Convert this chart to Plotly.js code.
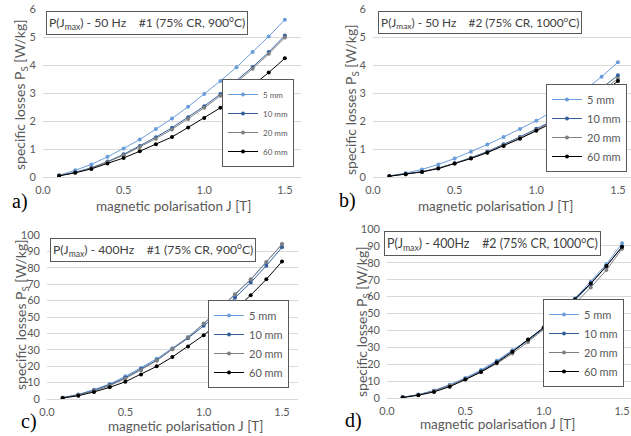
<!DOCTYPE html>
<html>
<head>
<meta charset="utf-8">
<script src="https://cdn.plot.ly/plotly-3.0.1.min.js"></script>
<style>html,body{margin:0;padding:0;background:#fff;}#chart{width:631px;height:436px;}</style>
</head>
<body>
<div id="chart"></div>
<script>
// Magnetic polarisation J [T]
var J = [0.1, 0.2, 0.3, 0.4, 0.5, 0.6, 0.7, 0.8, 0.9, 1.0, 1.1, 1.2, 1.3, 1.4, 1.5];
var seriesNames = ['5 mm', '10 mm', '20 mm', '60 mm'];

// a) 50 Hz, #1 (75% CR, 900 C)
var a5  = [0.06, 0.24, 0.45, 0.72, 1.02, 1.34, 1.71, 2.09, 2.51, 2.96, 3.43, 3.92, 4.46, 5.02, 5.62];
var a10 = [0.05, 0.17, 0.33, 0.55, 0.81, 1.11, 1.42, 1.76, 2.13, 2.53, 2.96, 3.43, 3.93, 4.46, 5.05];
var a20 = [0.05, 0.16, 0.31, 0.53, 0.78, 1.07, 1.37, 1.70, 2.07, 2.47, 2.90, 3.37, 3.87, 4.40, 4.98];
var a60 = [0.04, 0.15, 0.29, 0.48, 0.68, 0.92, 1.17, 1.43, 1.77, 2.11, 2.47, 2.87, 3.27, 3.73, 4.24];

// b) 50 Hz, #2 (75% CR, 1000 C)
var b5  = [0.04, 0.14, 0.27, 0.45, 0.66, 0.90, 1.16, 1.43, 1.71, 2.01, 2.34, 2.71, 3.13, 3.58, 4.10];
var b10 = [0.03, 0.10, 0.19, 0.32, 0.49, 0.69, 0.91, 1.17, 1.43, 1.72, 2.01, 2.35, 2.78, 3.17, 3.63];
var b20 = [0.03, 0.10, 0.19, 0.31, 0.48, 0.67, 0.88, 1.13, 1.39, 1.67, 1.97, 2.30, 2.65, 3.05, 3.52];
var b60 = [0.03, 0.10, 0.18, 0.30, 0.48, 0.66, 0.87, 1.11, 1.37, 1.65, 1.94, 2.23, 2.59, 2.96, 3.43];

// c) 400 Hz, #1 (75% CR, 900 C)
var c5  = [0.8, 2.8, 5.7, 9.1, 13.8, 18.9, 24.5, 31.0, 37.7, 45.8, 54.4, 63.5, 72.6, 83.2, 94.3];
var c10 = [0.8, 2.6, 5.3, 8.7, 13.0, 18.3, 23.7, 30.4, 37.1, 44.6, 52.7, 61.7, 71.0, 81.3, 92.5];
var c20 = [0.6, 2.4, 4.9, 8.1, 12.4, 17.6, 23.3, 30.4, 37.7, 46.0, 55.0, 63.9, 73.0, 83.6, 94.5];
var c60 = [0.6, 2.0, 4.3, 7.1, 10.5, 15.0, 19.9, 25.6, 32.0, 38.9, 46.7, 54.6, 63.3, 73.0, 83.8];

// d) 400 Hz, #2 (75% CR, 1000 C)
var d5  = [0.4, 2.0, 4.5, 7.9, 11.9, 16.6, 22.1, 28.3, 34.4, 41.7, 49.8, 58.9, 68.8, 79.2, 91.5];
var d10 = [0.4, 1.9, 4.2, 7.3, 11.3, 16.0, 21.4, 27.5, 34.0, 41.2, 49.0, 57.8, 67.5, 78.0, 89.5];
var d20 = [0.4, 1.8, 4.2, 7.3, 11.1, 15.4, 20.4, 26.3, 33.2, 40.5, 48.0, 55.9, 65.4, 75.7, 88.3];
var d60 = [0.3, 1.6, 3.6, 6.7, 10.9, 15.4, 20.8, 27.3, 34.6, 41.7, 49.8, 58.5, 67.8, 78.1, 89.5];

var panelTitles = [
  'P(J<sub>max</sub>) - 50 Hz\u00a0\u00a0\u00a0\u00a0#1 (75% CR, 900<sup>o</sup>C)',
  'P(J<sub>max</sub>) - 50 Hz\u00a0\u00a0\u00a0\u00a0#2 (75% CR, 1000<sup>o</sup>C)',
  'P(J<sub>max</sub>) - 400Hz\u00a0\u00a0\u00a0\u00a0#1 (75% CR, 900<sup>o</sup>C)',
  'P(J<sub>max</sub>) - 400Hz\u00a0\u00a0\u00a0\u00a0#2 (75% CR, 1000<sup>o</sup>C)'
];
var panelLetters = ['a)', 'b)', 'c)', 'd)'];
var xTitle = 'magnetic polarisation J [T]';
var yTitle = 'specific losses P<sub>S</sub> [W/kg]';

var colors = ['#6a9ddb', '#34609e', '#7f7f7f', '#000000'];
var W = 631, H = 436;
function px(x) { return x / W; }
function py(y) { return 1 - y / H; }

var panels = [
  {data: [a5, a10, a20, a60], xa: 'x',  ya: 'y',  leg: 'legend'},
  {data: [b5, b10, b20, b60], xa: 'x2', ya: 'y2', leg: 'legend2'},
  {data: [c5, c10, c20, c60], xa: 'x3', ya: 'y3', leg: 'legend3'},
  {data: [d5, d10, d20, d60], xa: 'x4', ya: 'y4', leg: 'legend4'}
];

var traces = [];
panels.forEach(function (p) {
  p.data.forEach(function (vals, i) {
    traces.push({
      x: J, y: vals, type: 'scatter', mode: 'lines+markers',
      name: seriesNames[i], xaxis: p.xa, yaxis: p.ya, legend: p.leg,
      line: {color: colors[i], width: 1},
      marker: {color: colors[i], size: 4, symbol: 'circle'},
      hoverinfo: 'skip'
    });
  });
});

var FONT = 'Lato, "Liberation Sans", Arial, sans-serif';
var tickFont = {family: FONT, size: 11, color: '#595959'};

function xAxis(d0, d1, r1, anchor, standoff) {
  return {domain: [d0, d1], range: [0, r1], anchor: anchor, dtick: 0.5, tick0: 0,
    tickformat: '.1f', showgrid: false, zeroline: false, showline: true,
    linecolor: '#d9d9d9', linewidth: 1, ticks: '', tickfont: tickFont,
    ticklabelstandoff: standoff, fixedrange: true};
}
function yAxis(d0, d1, r1, dt, anchor) {
  return {domain: [d0, d1], range: [0, r1], anchor: anchor, dtick: dt, tick0: 0,
    showgrid: true, gridcolor: '#d9d9d9', gridwidth: 1, zeroline: false,
    showline: false, ticks: '', tickfont: tickFont, ticklabelstandoff: 6, fixedrange: true};
}

function legendAt(xr, yb, size) {
  return {x: px(xr), y: py(yb), xanchor: 'right', yanchor: 'bottom',
    bgcolor: '#ffffff', bordercolor: '#595959', borderwidth: 1,
    font: {family: FONT, size: size, color: '#595959'}, itemwidth: 30,
    tracegroupgap: 0};
}

var annotations = [];
// left edge x, vertical centre y, font size of each boxed panel title
var titlePos = [[46, 23, 12.2], [378, 23, 11.9], [50, 250, 12.2], [384, 243.5, 12.4]];
var xtPos = [[173, 206], [495, 206], [185, 426], [497, 424]];
var ytPos = [[21, 95], [352, 100], [21, 315], [362, 322]];
var letPos = [[20, 201], [347, 200], [29, 421], [353, 420]];
for (var k = 0; k < 4; k++) {
  annotations.push({text: panelTitles[k], xref: 'paper', yref: 'paper',
    x: px(titlePos[k][0]), y: py(titlePos[k][1]), xanchor: 'left', yanchor: 'middle',
    showarrow: false, bordercolor: '#595959', borderwidth: 1, borderpad: 2, bgcolor: '#ffffff',
    font: {family: FONT, size: titlePos[k][2], color: '#404040'}});
  annotations.push({text: xTitle, xref: 'paper', yref: 'paper',
    x: px(xtPos[k][0]), y: py(xtPos[k][1]), xanchor: 'center', yanchor: 'middle',
    showarrow: false, font: {family: FONT, size: 13.5, color: '#595959'}});
  annotations.push({text: yTitle, xref: 'paper', yref: 'paper', textangle: -90,
    x: px(ytPos[k][0]), y: py(ytPos[k][1]), xanchor: 'center', yanchor: 'middle',
    showarrow: false, font: {family: FONT, size: 14, color: '#595959'}});
  annotations.push({text: panelLetters[k], xref: 'paper', yref: 'paper',
    x: px(letPos[k][0]), y: py(letPos[k][1]), xanchor: 'center', yanchor: 'middle',
    showarrow: false, font: {family: '"Liberation Serif", "Times New Roman", serif', size: 20, color: '#000000'}});
}

var layout = {
  width: W, height: H, margin: {l: 0, r: 0, t: 0, b: 0},
  paper_bgcolor: '#ffffff', plot_bgcolor: '#ffffff', showlegend: true,
  xaxis:  xAxis(px(43),  px(301), 1.6,  'y', 3),
  yaxis:  yAxis(py(177), py(9),   6,   1, 'x'),
  xaxis2: xAxis(px(373), 1,       1.58, 'y2', 3),
  yaxis2: yAxis(py(177), py(9),   6,   1, 'x2'),
  xaxis3: xAxis(px(47),  px(297.7), 1.6, 'y3', 3),
  yaxis3: yAxis(py(399), py(235), 100, 10, 'x3'),
  xaxis4: xAxis(px(387), 1,       1.557, 'y4', 3),
  yaxis4: yAxis(py(398), py(229), 100, 10, 'x4'),
  legend:  legendAt(294, 167, 8),
  legend2: legendAt(627, 172, 11),
  legend3: legendAt(289, 388, 11),
  legend4: legendAt(624, 387, 11),
  annotations: annotations
};

Plotly.newPlot('chart', traces, layout, {displayModeBar: false, staticPlot: true});
</script>
</body>
</html>
